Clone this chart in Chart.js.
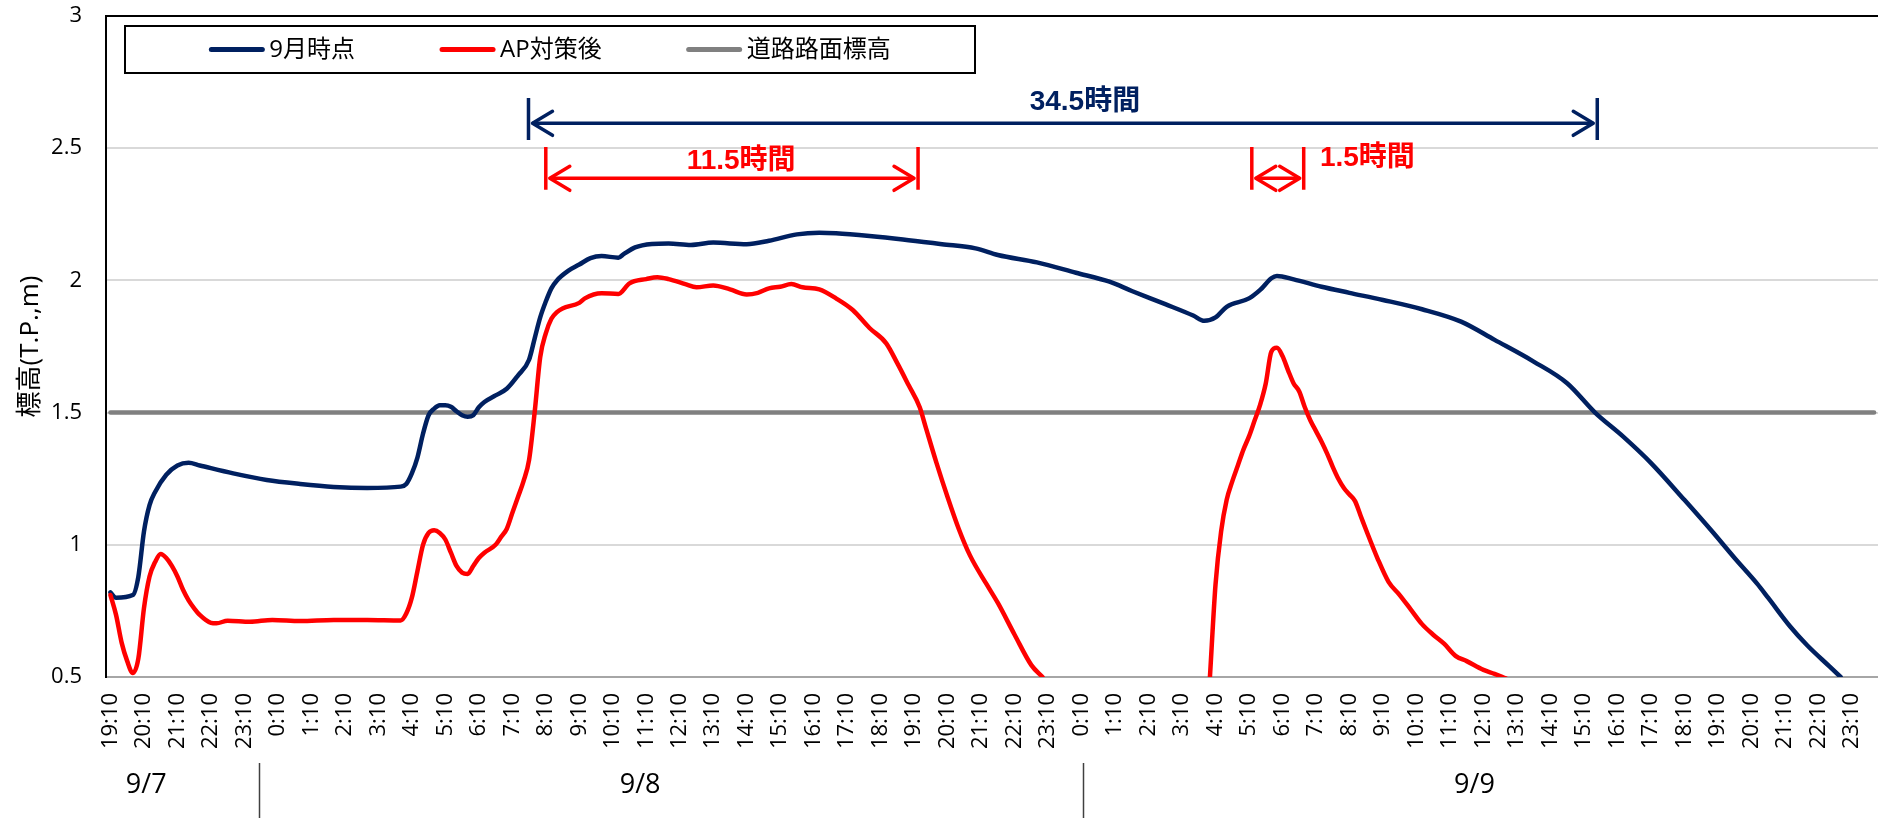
<!DOCTYPE html>
<html lang="ja">
<head>
<meta charset="utf-8">
<title>標高の時間変化</title>
<script src="https://cdn.jsdelivr.net/npm/chart.js@4.4.1/dist/chart.umd.min.js"></script>
<style>
  html, body { margin: 0; padding: 0; background: #fff; overflow: hidden; }
  canvas { display: block; }
</style>
</head>
<body>
<canvas id="chart" width="1878" height="818"></canvas>
<script>
// Hour tick labels (one per hour, starting 9/7 19:10)
const hourLabels = [
  '19:10','20:10','21:10','22:10','23:10',
  '0:10','1:10','2:10','3:10','4:10','5:10','6:10','7:10','8:10','9:10','10:10','11:10',
  '12:10','13:10','14:10','15:10','16:10','17:10','18:10','19:10','20:10','21:10','22:10','23:10',
  '0:10','1:10','2:10','3:10','4:10','5:10','6:10','7:10','8:10','9:10','10:10','11:10',
  '12:10','13:10','14:10','15:10','16:10','17:10','18:10','19:10','20:10','21:10','22:10','23:10'
];
const dateLabels = ['9/7', '9/8', '9/9'];
const seriesNames = ['9月時点', 'AP対策後', '道路路面標高'];

// 9月時点: minutes after 9/7 19:10, level (T.P., m)
const septTimes = [
  0, 10, 40, 50, 60, 70, 80, 100, 120, 140,
  160, 220, 280, 340, 400, 460, 520, 530, 540, 550,
  560, 570, 580, 590, 600, 610, 620, 630, 640, 650,
  660, 670, 690, 710, 730, 750, 760, 770, 780, 790,
  800, 820, 840, 860, 880, 910, 920, 940, 970, 1000,
  1040, 1080, 1140, 1180, 1230, 1270, 1300, 1360, 1420, 1490,
  1550, 1590, 1660, 1730, 1790, 1830, 1890, 1940, 1960, 1980,
  2000, 2040, 2060, 2080, 2090, 2120, 2170, 2220, 2280, 2350,
  2420, 2480, 2550, 2610, 2660, 2710, 2760, 2820, 2870, 2910,
  2950, 2970, 3010, 3040, 3080, 3100
];
const septLevels = [
  0.82, 0.80, 0.81, 0.88, 1.05, 1.15, 1.20, 1.265, 1.30, 1.31,
  1.30, 1.27, 1.245, 1.23, 1.219, 1.215, 1.220, 1.23, 1.27, 1.33,
  1.42, 1.49, 1.515, 1.528, 1.528, 1.522, 1.505, 1.49, 1.484, 1.49,
  1.52, 1.54, 1.565, 1.59, 1.64, 1.70, 1.78, 1.86, 1.92, 1.97,
  2.00, 2.036, 2.06, 2.084, 2.092, 2.086, 2.10, 2.125, 2.138, 2.14,
  2.134, 2.143, 2.137, 2.15, 2.174, 2.18, 2.178, 2.168, 2.155, 2.137,
  2.121, 2.096, 2.068, 2.029, 1.995, 1.96, 1.91, 1.867, 1.847, 1.86,
  1.90, 1.932, 1.964, 2.008, 2.017, 2.004, 1.976, 1.953, 1.926, 1.891,
  1.844, 1.775, 1.693, 1.611, 1.50, 1.41, 1.31, 1.17, 1.05, 0.95,
  0.854, 0.80, 0.69, 0.62, 0.54, 0.50
];

// AP対策後: minutes after 9/7 19:10, level (T.P., m); null = below the axis range
const apTimes = [
  0, 10, 20, 30, 40, 50, 60, 70, 80, 90,
  100, 110, 120, 130, 140, 150, 160, 180, 190, 210,
  250, 290, 340, 400, 460, 520, 530, 540, 550, 560,
  570, 580, 590, 600, 610, 620, 630, 640, 650, 660,
  670, 690, 700, 710, 720, 730, 740, 750, 760, 770,
  780, 790, 800, 810, 840, 850, 880, 910, 930, 960,
  980, 1000, 1030, 1050, 1080, 1110, 1140, 1160, 1180, 1200,
  1220, 1240, 1270, 1300, 1330, 1360, 1390, 1410, 1430, 1450,
  1460, 1480, 1500, 1520, 1540, 1570, 1590, 1620, 1650, 1670,
  1800, 1970, 1980, 1990, 2000, 2010, 2020, 2030, 2040, 2050,
  2060, 2070, 2080, 2090, 2100, 2110, 2120, 2130, 2140, 2150,
  2160, 2170, 2180, 2190, 2200, 2210, 2220, 2230, 2240, 2250,
  2270, 2290, 2310, 2330, 2350, 2370, 2390, 2410, 2430, 2460,
  2480, 2500
];
const apLevels = [
  0.81, 0.735, 0.63, 0.56, 0.515, 0.57, 0.76, 0.88, 0.935, 0.965,
  0.95, 0.92, 0.88, 0.83, 0.79, 0.76, 0.735, 0.705, 0.703, 0.713,
  0.709, 0.716, 0.712, 0.716, 0.716, 0.714, 0.74, 0.80, 0.90, 1.00,
  1.045, 1.055, 1.045, 1.02, 0.97, 0.92, 0.895, 0.89, 0.92, 0.95,
  0.97, 1.00, 1.03, 1.06, 1.12, 1.18, 1.24, 1.32, 1.50, 1.71,
  1.80, 1.855, 1.88, 1.894, 1.915, 1.932, 1.951, 1.949, 1.989, 2.005,
  2.012, 2.005, 1.986, 1.974, 1.981, 1.966, 1.947, 1.953, 1.970, 1.976,
  1.986, 1.974, 1.966, 1.932, 1.888, 1.82, 1.762, 1.686, 1.604, 1.52,
  1.45, 1.31, 1.18, 1.06, 0.96, 0.85, 0.78, 0.66, 0.545, 0.50,
  null, 0.50, 0.85, 1.05, 1.17, 1.24, 1.30, 1.36, 1.41, 1.47,
  1.53, 1.61, 1.73, 1.745, 1.714, 1.66, 1.61, 1.58, 1.52, 1.47,
  1.43, 1.39, 1.345, 1.295, 1.25, 1.215, 1.19, 1.165, 1.11, 1.055,
  0.95, 0.86, 0.81, 0.755, 0.70, 0.66, 0.625, 0.58, 0.56, 0.527,
  0.512, 0.495
];

// 道路路面標高 (road surface level)
const roadTimes = [0, 3160];
const roadLevels = [1.5, 1.5];

const FONT = "'Open Sans', 'Noto Sans CJK JP', sans-serif";
const BOLD_FONT = "'Liberation Sans', 'Noto Sans CJK JP', sans-serif";

const toPoints = (ts, vs) => ts.map((t, i) => ({ x: t, y: vs[i] }));

// Duration arrows above the curves (x in minutes, y in metres)
const spans = [
  { text: '34.5時間', from: 749, to: 2664, level: 2.594, barTop: 2.69, barBottom: 2.531,
    color: '#002060', textAt: 1746, textLevel: 2.673, align: 'center' },
  { text: '11.5時間', from: 780, to: 1447, level: 2.386, barTop: 2.505, barBottom: 2.343,
    color: '#ff0000', textAt: 1130, textLevel: 2.452, align: 'center' },
  { text: '1.5時間', from: 2045, to: 2138, level: 2.386, barTop: 2.505, barBottom: 2.343,
    color: '#ff0000', textAt: 2167, textLevel: 2.462, align: 'left' }
];

// Second row of the time axis: day dividers and day names
const dayRow = { dividers: [267, 1742], labelAt: [64, 949, 2444] };

const framePlugin = {
  id: 'frame',
  afterDraw(chart) {
    const { ctx, chartArea: a } = chart;
    ctx.save();
    ctx.strokeStyle = '#000';
    ctx.lineWidth = 2;
    ctx.beginPath();
    ctx.moveTo(a.left - 1, a.top);
    ctx.lineTo(a.right, a.top);
    ctx.stroke();
    ctx.restore();
  }
};

const dayRowPlugin = {
  id: 'dayRow',
  afterDraw(chart) {
    const { ctx } = chart;
    const xs = chart.scales.x;
    ctx.save();
    ctx.strokeStyle = '#404040';
    ctx.lineWidth = 1.5;
    dayRow.dividers.forEach(m => {
      const x = Math.round(xs.getPixelForValue(m)) + 0.5;
      ctx.beginPath();
      ctx.moveTo(x, 763);
      ctx.lineTo(x, chart.height);
      ctx.stroke();
    });
    ctx.fillStyle = '#000';
    ctx.font = `27px ${FONT}`;
    ctx.textAlign = 'center';
    ctx.textBaseline = 'middle';
    dateLabels.forEach((d, i) => {
      ctx.fillText(d, xs.getPixelForValue(dayRow.labelAt[i]), 785);
    });
    ctx.restore();
  }
};

const spanPlugin = {
  id: 'spans',
  afterDatasetsDraw(chart) {
    const { ctx } = chart;
    const xs = chart.scales.x, ys = chart.scales.y;
    ctx.save();
    spans.forEach(s => {
      const x1 = xs.getPixelForValue(s.from), x2 = xs.getPixelForValue(s.to);
      const y = ys.getPixelForValue(s.level);
      const yt = ys.getPixelForValue(s.barTop), yb = ys.getPixelForValue(s.barBottom);
      ctx.strokeStyle = s.color;
      ctx.lineWidth = 3.5;
      ctx.lineCap = 'butt';
      ctx.beginPath();
      ctx.moveTo(x1, yt); ctx.lineTo(x1, yb);
      ctx.moveTo(x2, yt); ctx.lineTo(x2, yb);
      ctx.stroke();
      const a = x1 + 4, b = x2 - 4;
      ctx.beginPath();
      ctx.moveTo(a, y); ctx.lineTo(b, y);
      ctx.stroke();
      ctx.lineCap = 'round';
      ctx.lineJoin = 'round';
      ctx.beginPath();
      ctx.moveTo(a + 20, y - 12); ctx.lineTo(a, y); ctx.lineTo(a + 20, y + 12);
      ctx.moveTo(b - 20, y - 12); ctx.lineTo(b, y); ctx.lineTo(b - 20, y + 12);
      ctx.stroke();
      ctx.fillStyle = s.color;
      ctx.font = `bold 28px ${BOLD_FONT}`;
      ctx.textAlign = s.align;
      ctx.textBaseline = 'middle';
      ctx.fillText(s.text, xs.getPixelForValue(s.textAt), ys.getPixelForValue(s.textLevel));
    });
    ctx.restore();
  }
};

const legendPlugin = {
  id: 'boxLegend',
  afterDraw(chart) {
    const { ctx } = chart;
    const box = { x: 125, y: 26, w: 850, h: 47 };
    const sample = 55, gap = 5, between = 85;
    ctx.save();
    ctx.fillStyle = '#fff';
    ctx.fillRect(box.x, box.y, box.w, box.h);
    ctx.strokeStyle = '#000';
    ctx.lineWidth = 2;
    ctx.strokeRect(box.x, box.y, box.w, box.h);
    ctx.font = `24px ${FONT}`;
    const items = chart.data.datasets.map(d => ({
      label: d.label, color: d.borderColor, w: ctx.measureText(d.label).width
    }));
    const total = items.reduce((s, it) => s + sample + gap + it.w, 0) + between * (items.length - 1);
    let x = box.x + (box.w - total) / 2;
    const cy = box.y + box.h / 2;
    items.forEach(it => {
      ctx.strokeStyle = it.color;
      ctx.lineWidth = 5;
      ctx.lineCap = 'round';
      ctx.beginPath();
      ctx.moveTo(x + 2, cy);
      ctx.lineTo(x + sample - 2, cy);
      ctx.stroke();
      ctx.fillStyle = '#000';
      ctx.textAlign = 'left';
      ctx.textBaseline = 'middle';
      ctx.fillText(it.label, x + sample + gap, cy + 1);
      x += sample + gap + it.w + between;
    });
    ctx.restore();
  }
};

const lineStyle = {
  pointRadius: 0,
  borderWidth: 4.5,
  borderCapStyle: 'round',
  borderJoinStyle: 'round',
  cubicInterpolationMode: 'monotone',
  spanGaps: false,
  clip: 0
};

new Chart(document.getElementById('chart'), {
  type: 'line',
  data: {
    datasets: [
      { ...lineStyle, label: seriesNames[0], data: toPoints(septTimes, septLevels),
        borderColor: '#002060', order: 1 },
      { ...lineStyle, label: seriesNames[1], data: toPoints(apTimes, apLevels),
        borderColor: '#ff0000', order: 0 },
      { ...lineStyle, label: seriesNames[2], data: toPoints(roadTimes, roadLevels),
        borderColor: '#808080', order: 2 }
    ]
  },
  options: {
    responsive: false,
    animation: false,
    events: [],
    layout: { padding: { top: 16, left: 0, right: 0, bottom: 0 } },
    plugins: { legend: { display: false }, tooltip: { enabled: false } },
    scales: {
      x: {
        type: 'linear',
        min: -8,
        max: 3167,
        afterFit(scale) {
          scale.height = 141;
          scale.paddingLeft = 0;
          scale.paddingRight = 0;
        },
        afterBuildTicks(scale) { scale.ticks = hourLabels.map((_, i) => ({ value: i * 60 })); },
        ticks: {
          autoSkip: false,
          minRotation: 90,
          maxRotation: 90,
          padding: 16,
          color: '#000',
          font: { size: 22, family: FONT },
          callback: v => hourLabels[Math.round(v / 60)]
        },
        grid: { display: true, drawOnChartArea: false, drawTicks: false },
        border: { display: true, color: '#a6a6a6', width: 2 }
      },
      y: {
        min: 0.5,
        max: 3,
        afterFit(scale) {
          scale.width = 106;
          scale.paddingTop = 0;
          scale.paddingBottom = 0;
        },
        ticks: {
          stepSize: 0.5,
          padding: 24,
          color: '#000',
          font: { size: 22, family: FONT },
          callback: v => String(v)
        },
        grid: { color: '#d9d9d9', lineWidth: 2, drawTicks: false },
        border: { display: true, color: '#000', width: 2 },
        title: {
          display: true,
          text: '標高(T.P.,m)',
          color: '#000',
          font: { size: 26, family: FONT },
          padding: { top: 15, bottom: 0 }
        }
      }
    }
  },
  plugins: [framePlugin, spanPlugin, dayRowPlugin, legendPlugin]
});
</script>
</body>
</html>
